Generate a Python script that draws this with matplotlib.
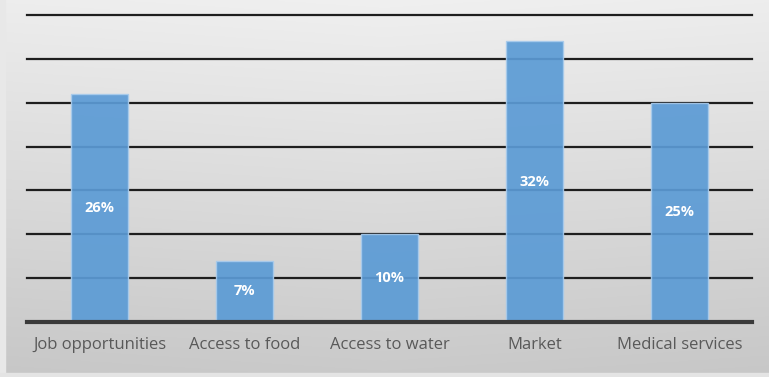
import numpy as np
import matplotlib.pyplot as plt

categories = ["Job opportunities", "Access to food", "Access to water", "Market", "Medical services"]
values = [26, 7, 10, 32, 25]
grid_levels = [0, 5, 10, 15, 20, 25, 30, 35]

W, H = 769, 377
fig = plt.figure(figsize=(W / 100, H / 100), dpi=100)

# gray gradient behind everything, lighter at the top
bg = fig.add_axes([0, 0, 1, 1], zorder=-10)
yy = np.linspace(0, 1, 200)[:, None]
xx = np.linspace(0, 1, 400)[None, :]
shade = 0.79 + 0.15 * yy - 0.02 * np.abs(xx - 0.5)
bg.imshow(np.dstack([shade] * 3), extent=[0, 1, 0, 1], origin="lower", aspect="auto")
bg.axvspan(0, 5 / W, color="#e8e8e8")
bg.axhspan(0, 4 / H, color="#e4e4e4")
bg.set_xlim(0, 1)
bg.set_ylim(0, 1)
bg.axis("off")

ax = fig.add_axes([27 / W, (H - 322) / H, 725 / W, 307 / H])
ax.patch.set_alpha(0)
x = np.arange(len(categories))

for lvl in grid_levels[1:]:
    ax.axhline(lvl, color="#1e1e1e", lw=1.6, zorder=1, clip_on=False)
ax.axhline(0, color="#3a3a3a", lw=3, zorder=3, clip_on=False)

bars = ax.bar(x, values, width=0.39, color="#5b9bd5", alpha=0.92,
              edgecolor="#a8cbec", linewidth=1, zorder=2)

for b, v in zip(bars, values):
    ax.text(b.get_x() + b.get_width() / 2, v / 2, f"{v}%", ha="center", va="center",
            color="white", fontsize=10.5, fontweight="bold", family="Open Sans", zorder=4)

ax.set_xlim(-0.5, len(categories) - 0.5)
ax.set_ylim(0, 35)
ax.set_xticks(x)
ax.set_xticklabels(categories, fontsize=12, color="#595959", family="Open Sans")
ax.tick_params(axis="x", length=0, pad=11)
ax.set_yticks([])
for s in ax.spines.values():
    s.set_visible(False)

fig.savefig("out.png", dpi=100)
